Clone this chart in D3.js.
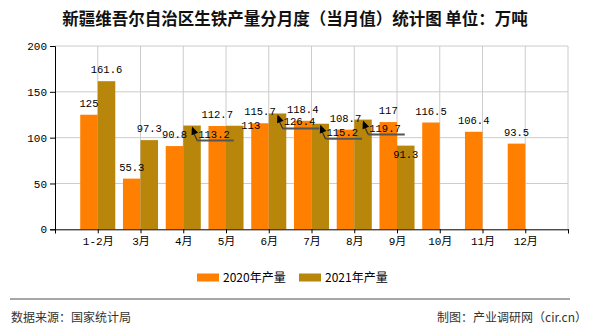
<!DOCTYPE html>
<html><head><meta charset="utf-8">
<script src="https://cdn.jsdelivr.net/npm/d3@7"></script>
<style>html,body{margin:0;padding:0;background:#fff;}</style>
</head><body>
<svg id="c" width="590" height="330"></svg>
<script>
const categories = ["1-2月","3月","4月","5月","6月","7月","8月","9月","10月","11月","12月"];
const values2020 = [125,55.3,90.8,112.7,115.7,118.4,108.7,117,116.5,106.4,93.5];
const values2021 = [161.6,97.3,113.2,113,126.4,115.2,119.7,91.3,null,null,null];
const seriesNames = ["2020年产量","2021年产量"];
const yTicks = [0,50,100,150,200];
const colors = ["#FF7F00","#B8860B"];
// label displacement for crowded 2021 labels: [dx, dy, withArrow]
const shift2021 = {2:[22,20,true],3:[16,11,false],4:[22,20,true],5:[22,20,true],6:[22,20,true],7:[0,20,false]};

const svg = d3.select("#c");
const numFont = "'Liberation Mono','DejaVu Sans Mono','Noto Sans CJK SC',monospace";
const cjk = "'Noto Sans CJK SC','Liberation Sans',sans-serif";

const x = d3.scaleLinear().domain([0, categories.length + 1]).range([55, 568]);
const y = d3.scaleLinear().domain([0, 200]).range([229.3, 46]);
const bw = (x(1) - x(0)) * 0.41;

svg.append("text").attr("x", 295).attr("y", 25).attr("text-anchor", "middle")
  .attr("font-family", cjk).attr("font-size", 16.5).attr("font-weight", "bold").attr("fill", "#111")
  .text("新疆维吾尔自治区生铁产量分月度（当月值）统计图 单位：万吨");

// grid
const g = svg.append("g");
g.selectAll("line.h").data(yTicks.filter(d => d > 0)).join("line")
  .attr("x1", x(0)).attr("x2", x(12)).attr("y1", d => y(d)).attr("y2", d => y(d))
  .attr("stroke", "#cccccc").attr("stroke-width", 1);
g.selectAll("line.v").data(d3.range(1, categories.length + 2)).join("line")
  .attr("x1", d => x(d)).attr("x2", d => x(d)).attr("y1", y(200)).attr("y2", y(0))
  .attr("stroke", "#cccccc").attr("stroke-width", 1);

// bars
const series = [values2020, values2021];
series.forEach((vals, s) => {
  svg.append("g").selectAll("rect").data(vals.map((v, i) => ({v, i})).filter(d => d.v != null)).join("rect")
    .attr("x", d => s === 0 ? x(d.i + 1) - bw : x(d.i + 1))
    .attr("width", bw)
    .attr("y", d => y(d.v)).attr("height", d => y(0) - y(d.v))
    .attr("fill", colors[s]);
});

// axes
const yAxis = d3.axisLeft(y).tickValues(yTicks).tickSize(5).tickPadding(3);
const ya = svg.append("g").attr("transform", `translate(${x(0)},0)`).call(yAxis);
ya.select(".domain").attr("stroke", "#000");
ya.selectAll("text").attr("font-family", numFont).attr("font-size", 11).attr("fill", "#000");

const xAxis = d3.axisBottom(x).tickValues(d3.range(0, categories.length + 2)).tickSize(4).tickPadding(4)
  .tickFormat(d => (d >= 1 && d <= categories.length) ? categories[d - 1] : "");
const xa = svg.append("g").attr("transform", `translate(0,${y(0)})`).call(xAxis);
xa.select(".domain").attr("stroke", "#000");
xa.selectAll("text").attr("font-family", numFont).attr("font-size", 11).attr("fill", "#000");

// labels
const lab = svg.append("g").attr("font-family", numFont).attr("font-size", 10.5).attr("fill", "#000");
values2020.forEach((v, i) => {
  lab.append("text").attr("x", x(i + 1) - bw / 2).attr("y", y(v) - 8).attr("text-anchor", "middle").text(v);
});
values2021.forEach((v, i) => {
  if (v == null) return;
  const cx = x(i + 1) + bw / 2, by = y(v) - 8;
  const sh = shift2021[i] || [0, 0, false];
  const t = lab.append("text").attr("x", cx + sh[0]).attr("y", by + sh[1]).attr("text-anchor", "middle").text(v);
  if (sh[2]) {
    const w = t.node().getComputedTextLength();
    const lx = cx + sh[0] - w / 2 - 1, ly = by + sh[1] + 3;
    svg.append("line").attr("x1", lx).attr("x2", lx + w + 5).attr("y1", ly).attr("y2", ly)
      .attr("stroke", "#555").attr("stroke-width", 2);
    const tx = cx, ty = y(v) + 1;
    svg.append("line").attr("x1", lx).attr("y1", ly).attr("x2", tx).attr("y2", ty + 3)
      .attr("stroke", "#333").attr("stroke-width", 1.2);
    const ang = Math.atan2(ty - ly, tx - lx);
    const L = 8, W = 3.5;
    const bx = tx - L * Math.cos(ang), byy = ty - L * Math.sin(ang);
    svg.append("path").attr("d", `M${tx},${ty}L${bx - W * Math.sin(ang)},${byy + W * Math.cos(ang)}L${bx + W * Math.sin(ang)},${byy - W * Math.cos(ang)}Z`)
      .attr("fill", "#000");
  }
});

// legend
const legX = [197, 299];
seriesNames.forEach((n, s) => {
  svg.append("rect").attr("x", legX[s]).attr("y", 273.5).attr("width", 22).attr("height", 8).attr("fill", colors[s]);
  svg.append("text").attr("x", legX[s] + 26).attr("y", 282).attr("font-family", cjk).attr("font-size", 12)
    .attr("fill", "#000").text(n);
});

// footer
svg.append("line").attr("x1", 10).attr("x2", 570).attr("y1", 299).attr("y2", 299).attr("stroke", "#888").attr("stroke-width", 1.5);
svg.append("text").attr("x", 11).attr("y", 322).attr("font-family", cjk).attr("font-size", 12).attr("fill", "#333").text("数据来源：国家统计局");
svg.append("text").attr("x", 587).attr("y", 322).attr("text-anchor", "end").attr("font-family", cjk).attr("font-size", 12).attr("fill", "#333").text("制图：产业调研网（cir.cn）");
</script>
</body></html>
